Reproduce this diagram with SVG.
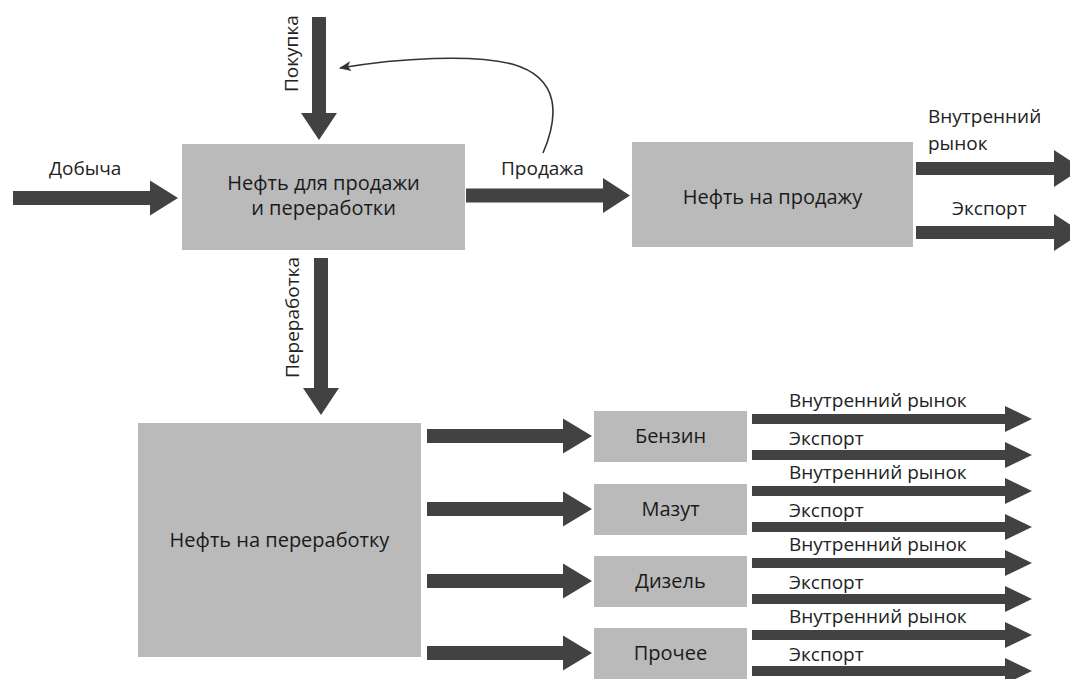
<svg xmlns="http://www.w3.org/2000/svg" width="1070" height="679" viewBox="0 0 1070 679">
<defs>
<style>
.box{fill:#bababa}
.arr{fill:#424242}
.node{font-family:"Open Sans","Noto Sans","DejaVu Sans",sans-serif;font-size:20px;fill:#1a1a1a;text-anchor:middle}
.lbl{font-family:"Open Sans","Noto Sans","DejaVu Sans",sans-serif;font-size:19px;fill:#222}
.curve{fill:none;stroke:#333;stroke-width:1.6}
</style>
<marker id="head" viewBox="0 0 12 10" refX="11" refY="5" markerWidth="12" markerHeight="10" markerUnits="userSpaceOnUse" orient="auto">
<path d="M0 0 L12 5 L0 10 L3 5 Z" fill="#333"/>
</marker>
</defs>
<rect width="1070" height="679" fill="#ffffff"/>

<g id="connectors">
<path class="arr" d="M13 191 H150 V180.5 L178 198 L150 215.5 V205 H13 Z"/>
<path class="arr" d="M312 17 V113 H301 L319 140 L337 113 H326 V17 Z"/>
<path class="arr" d="M466 188.5 H603 V178 L630 195.5 L603 213 V202.5 H466 Z"/>
<path class="arr" d="M916 162 H1054 V150 L1082 168.5 L1054 187 V175 H916 Z"/>
<path class="arr" d="M916 226 H1054 V214 L1082 232.5 L1054 251 V239 H916 Z"/>
<path class="arr" d="M314 258 V388 H303 L321 415 L339 388 H328 V258 Z"/>
<path class="arr" d="M427 429 H563 V418.5 L592 436 L563 453.5 V443 H427 Z"/>
<path class="arr" d="M427 502 H563 V491.5 L592 509 L563 526.5 V516 H427 Z"/>
<path class="arr" d="M427 574 H563 V563.5 L592 581 L563 598.5 V588 H427 Z"/>
<path class="arr" d="M427 646 H563 V635.5 L592 653 L563 670.5 V660 H427 Z"/>
<path class="arr" d="M752 414 H1005 V406 L1032 419 L1005 432 V424 H752 Z"/>
<path class="arr" d="M752 450 H1005 V442 L1032 455 L1005 468 V460 H752 Z"/>
<path class="arr" d="M752 486 H1005 V478 L1032 491 L1005 504 V496 H752 Z"/>
<path class="arr" d="M752 522 H1005 V514 L1032 527 L1005 540 V532 H752 Z"/>
<path class="arr" d="M752 558 H1005 V550 L1032 563 L1005 576 V568 H752 Z"/>
<path class="arr" d="M752 594 H1005 V586 L1032 599 L1005 612 V604 H752 Z"/>
<path class="arr" d="M752 630 H1005 V622 L1032 635 L1005 648 V640 H752 Z"/>
<path class="arr" d="M752 666 H1005 V658 L1032 671 L1005 684 V676 H752 Z"/>
<path class="curve" d="M543 153 C558 118, 562 78, 512 64 C472 54, 400 58, 340 68" marker-end="url(#head)"/>
<text class="lbl" x="49" y="175">Добыча</text>
<text class="lbl" transform="translate(298 92) rotate(-90)">Покупка</text>
<text class="lbl" x="501" y="175">Продажа</text>
<text class="lbl" x="928" y="123">Внутренний</text>
<text class="lbl" x="928" y="150">рынок</text>
<text class="lbl" x="952" y="215">Экспорт</text>
<text class="lbl" transform="translate(299 378) rotate(-90)">Переработка</text>
<text class="lbl" x="789" y="407">Внутренний рынок</text>
<text class="lbl" x="789" y="445">Экспорт</text>
<text class="lbl" x="789" y="479">Внутренний рынок</text>
<text class="lbl" x="789" y="517">Экспорт</text>
<text class="lbl" x="789" y="551">Внутренний рынок</text>
<text class="lbl" x="789" y="589">Экспорт</text>
<text class="lbl" x="789" y="623">Внутренний рынок</text>
<text class="lbl" x="789" y="661">Экспорт</text>
</g>

<g id="node-sale-processing">
<rect class="box" x="182" y="144" width="283" height="106"/>
<text class="node" x="323.5" y="190">Нефть для продажи</text>
<text class="node" x="323.5" y="215">и переработки</text>
</g>
<g id="node-for-sale">
<rect class="box" x="632" y="142" width="281" height="105"/>
<text class="node" x="772.5" y="204">Нефть на продажу</text>
</g>
<g id="node-for-processing">
<rect class="box" x="138" y="423" width="283" height="234"/>
<text class="node" x="279.5" y="547">Нефть на переработку</text>
</g>
<g id="node-benzin">
<rect class="box" x="594" y="411" width="153" height="51"/>
<text class="node" x="670.5" y="443">Бензин</text>
</g>
<g id="node-mazut">
<rect class="box" x="594" y="484" width="153" height="51"/>
<text class="node" x="670.5" y="516">Мазут</text>
</g>
<g id="node-diesel">
<rect class="box" x="594" y="556" width="153" height="51"/>
<text class="node" x="670.5" y="588">Дизель</text>
</g>
<g id="node-other">
<rect class="box" x="594" y="628" width="153" height="51"/>
<text class="node" x="670.5" y="660">Прочее</text>
</g>
</svg>
